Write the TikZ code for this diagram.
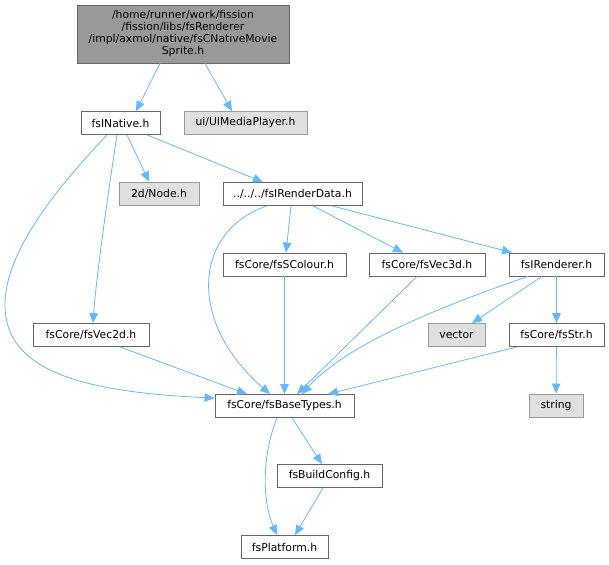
\documentclass[tikz,border=0pt]{standalone}
\usepackage{fontspec}
\setmainfont{DejaVu Sans}
\usetikzlibrary{arrows.meta}
\definecolor{edgeblue}{HTML}{63B8FF}
\definecolor{boxline}{HTML}{666666}
\definecolor{extfill}{HTML}{E0E0E0}
\definecolor{extline}{HTML}{999999}

\begin{document}
\begin{tikzpicture}[x=1pt, y=-1pt,
    font=\fontsize{10.8}{12}\selectfont,
    hdr/.style={draw=boxline, fill=white, line width=0.8pt, minimum height=23pt, inner sep=0pt},
    ext/.style={hdr, draw=extline, fill=extfill},
    dep/.style={draw=edgeblue, line width=0.8pt, -{Triangle[length=10pt,width=8.5pt]}}]
  \useasboundingbox (0,0) rectangle (609,564);

  \node [hdr, fill=extline, minimum width=212pt, minimum height=58pt, align=center] (sprite) at (183,34)
    {/home/runner/work/fission\\/fission/libs/fsRenderer\\/impl/axmol/native/fsCNativeMovie\\Sprite.h};
  \node [hdr, minimum width=79pt]  (native)    at (120.5,123) {fsINative.h};
  \node [ext, minimum width=123pt] (player)    at (245.5,123) {ui/UIMediaPlayer.h};
  \node [ext, minimum width=80pt]  (node2d)    at (159,193.5) {2d/Node.h};
  \node [hdr, minimum width=139pt] (rdata)     at (292.5,194) {../../../fsIRenderData.h};
  \node [hdr, minimum width=123pt] (scolour)   at (284.5,264.5) {fsCore/fsSColour.h};
  \node [hdr, minimum width=116pt] (vec3d)     at (427,264.5) {fsCore/fsVec3d.h};
  \node [hdr, minimum width=95pt]  (irend)     at (556.5,264.5) {fsIRenderer.h};
  \node [hdr, minimum width=116pt] (vec2d)     at (91,335) {fsCore/fsVec2d.h};
  \node [ext, minimum width=57pt]  (vector)    at (456.5,335) {vector};
  \node [hdr, minimum width=95pt]  (fsstr)     at (556.5,335) {fsCore/fsStr.h};
  \node [hdr, minimum width=139pt] (basetypes) at (284.5,406) {fsCore/fsBaseTypes.h};
  \node [ext, minimum width=54pt]  (string)    at (556,405.5) {string};
  \node [hdr, minimum width=105pt] (buildcfg)  at (329.5,476) {fsBuildConfig.h};
  \node [hdr, minimum width=87pt]  (platform)  at (284.5,547) {fsPlatform.h};

  \draw [dep] ([xshift=-23pt]sprite.south) -- ([xshift=15.5pt]native.north);
  \draw [dep] ([xshift=22pt]sprite.south) -- ([xshift=-13.5pt]player.north);

  \draw [dep] ([xshift=6.5pt]native.south) -- ([xshift=-10pt]node2d.north);
  \draw [dep] ([xshift=26.5pt]native.south) -- ([xshift=-29.5pt]rdata.north);
  \draw [dep] ([xshift=-3.5pt]native.south) .. controls (107,200) and (96,280) .. ([xshift=2pt]vec2d.north);
  \draw [dep] ([xshift=-13.5pt]native.south) .. controls (50,195) and (5,255) .. (5,305)
    .. controls (5,370) and (80,392) .. ([yshift=8pt]basetypes.west);

  \draw [dep] ([xshift=-25.5pt]rdata.south) .. controls (195,230) and (185,320) .. ([xshift=-14.5pt]basetypes.north);
  \draw [dep] ([xshift=-1.5pt]rdata.south) -- ([xshift=1.5pt]scolour.north);
  \draw [dep] ([xshift=20.5pt]rdata.south) -- ([xshift=-24pt]vec3d.north);
  \draw [dep] ([xshift=39.5pt]rdata.south) -- ([xshift=-44.5pt]irend.north);

  \draw [dep] (scolour) -- (basetypes);
  \draw [dep] ([xshift=-10pt]vec3d.south) -- ([xshift=12.5pt]basetypes.north);
  \draw [dep] ([xshift=-28.5pt]irend.south) .. controls (460,300) and (350,340) .. ([xshift=17.5pt]basetypes.north);
  \draw [dep] ([xshift=-14.5pt]irend.south) -- ([xshift=15.5pt]vector.north);
  \draw [dep] (irend) -- (fsstr);
  \draw [dep] (fsstr) -- (string);
  \draw [dep] ([xshift=-39.5pt]fsstr.south) -- ([xshift=43.5pt]basetypes.north);
  \draw [dep] ([xshift=29pt]vec2d.south) -- ([xshift=-37.5pt]basetypes.north);

  \draw [dep] ([xshift=7.5pt]basetypes.south) -- ([xshift=-7.5pt]buildcfg.north);
  \draw [dep] ([xshift=-7.5pt]basetypes.south) .. controls (262,455) and (262,500) .. ([xshift=-7.5pt]platform.north);
  \draw [dep] ([xshift=-6.5pt]buildcfg.south) -- ([xshift=10.5pt]platform.north);
\end{tikzpicture}
\end{document}
